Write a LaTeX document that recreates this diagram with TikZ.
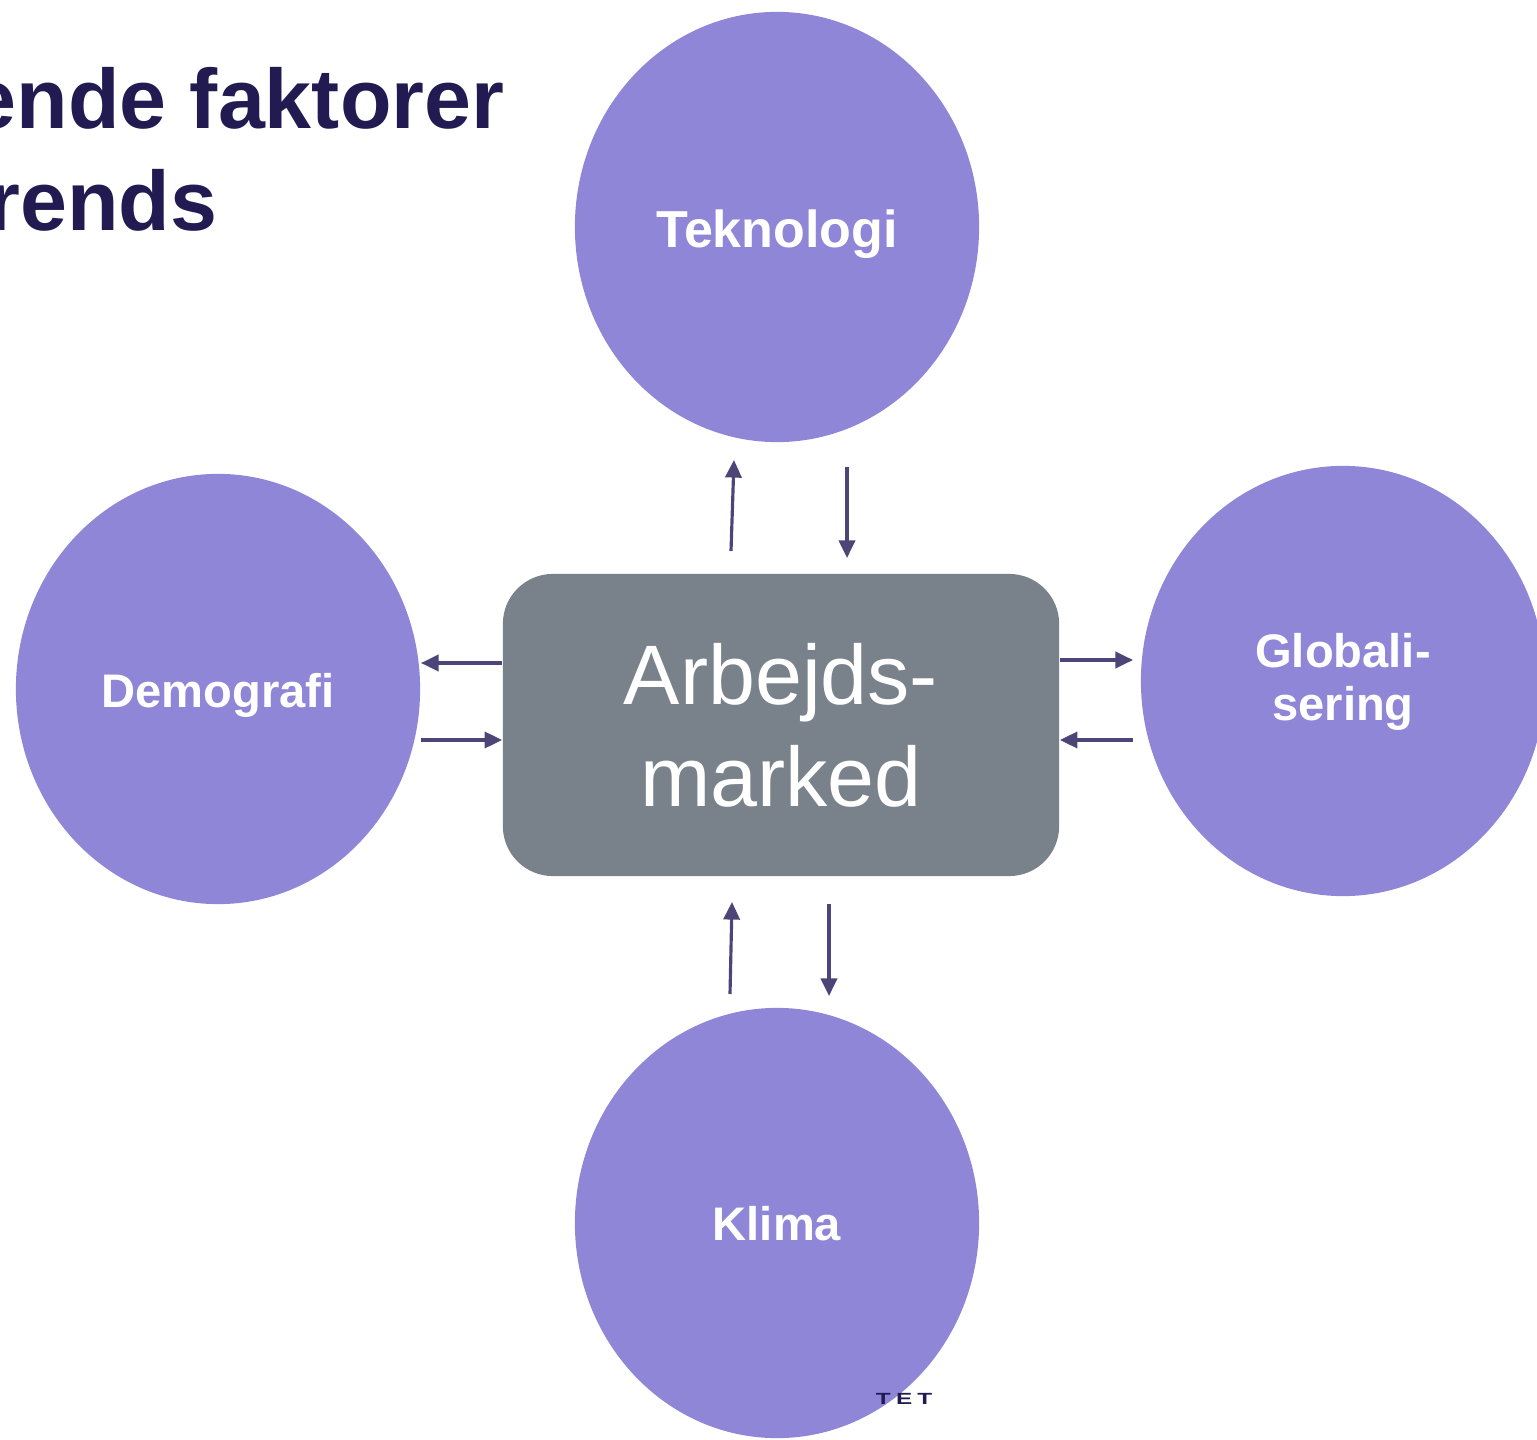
\documentclass[tikz,border=0pt]{standalone}
\usepackage{fontspec}
\setmainfont{Liberation Sans}
\usepackage{tikz}
\usetikzlibrary{arrows.meta,shapes.geometric}

\definecolor{kreds}{RGB}{143,134,216}
\definecolor{boks}{RGB}{121,130,139}
\definecolor{pil}{RGB}{76,70,120}
\definecolor{navy}{RGB}{34,27,82}

\tikzset{
	faktor/.style={ellipse, fill=kreds, inner sep=0pt, minimum width=4.04cm, minimum height=4.3cm},
	faktortekst/.style={anchor=base, inner sep=0pt, text=white, align=center,
		font=\fontsize{13.4pt}{14.8pt}\selectfont\bfseries},
	marked/.style={rectangle, rounded corners=0.5cm, fill=boks, minimum width=5.56cm, minimum height=3.02cm,
		text=white, font=\fontsize{24pt}{29pt}\selectfont, align=center},
	pile/.style={draw=pil, line width=0.9pt, -{Triangle[width=4.6pt,length=5pt]}}
}

\begin{document}
\begin{tikzpicture}[x=0.01cm,y=-0.01cm]
			\useasboundingbox (0,0) rectangle (1537,1440);
			\clip (0,0) rectangle (1537,1440);
			% title, cut at the left edge
			\node[anchor=base east, inner sep=0pt, text=navy, font=\fontsize{24pt}{29pt}\selectfont\bfseries] (titel1) at (505,129) {ende faktorer};
			\node[anchor=base east, inner sep=0pt, text=navy, font=\fontsize{24pt}{29pt}\selectfont\bfseries] (titel2) at (218,231) {rends};
			% factors
			\node[faktor] (tek) at (777,227) {};
			\node[faktor] (demo) at (218,689) {};
			\node[faktor] (glob) at (1343,681) {};
			\node[faktor] (klima) at (777,1223) {};
			\node[faktortekst, font=\fontsize{14.8pt}{16pt}\selectfont\bfseries] (tektekst) at ([yshift=-0.2cm]tek.center) {Teknologi};
			\node[faktortekst] (demotekst) at ([yshift=-0.18cm]demo.center) {Demografi};
			\node[faktortekst] (globtekst) at ([yshift=-0.39cm]glob.center) {Globali-\\sering};
			\node[faktortekst] (klimatekst) at ([yshift=-0.17cm]klima.center) {Klima};
			\node[marked] (arb) at (781,725) {Arbejds-\\marked};
			% footer remnant
			\node[anchor=base east, inner sep=0pt, text=navy, font=\fontsize{4.6pt}{5pt}\selectfont\bfseries] (fod) at (933,1404) {\scalebox{1.5}[1]{T\kern1pt E\kern1pt T}};
			% arrow ends
			\coordinate (t1) at (731,551);
			\coordinate (t2) at (734,460);
			\coordinate (t3) at (847,467);
			\coordinate (t4) at (847,558);
			\coordinate (k1) at (730,994);
			\coordinate (k2) at (732,902);
			\coordinate (k3) at (829,904);
			\coordinate (k4) at (829,996);
			\coordinate (d1) at (421,663);
			\coordinate (d2) at (421,740);
			\coordinate (g1) at (1133,660);
			\coordinate (g2) at (1133,740);
			% arrows
			\draw [pile] (t1) -- (t2);
			\draw [pile] (t3) -- (t4);
			\draw [pile] (k1) -- (k2);
			\draw [pile] (k3) -- (k4);
			\draw [pile] (arb.west |- d1) -- (d1);
			\draw [pile] (d2) -- (arb.west |- d2);
			\draw [pile] (arb.east |- g1) -- (g1);
			\draw [pile] (g2) -- (arb.east |- g2);
\end{tikzpicture}
\end{document}
